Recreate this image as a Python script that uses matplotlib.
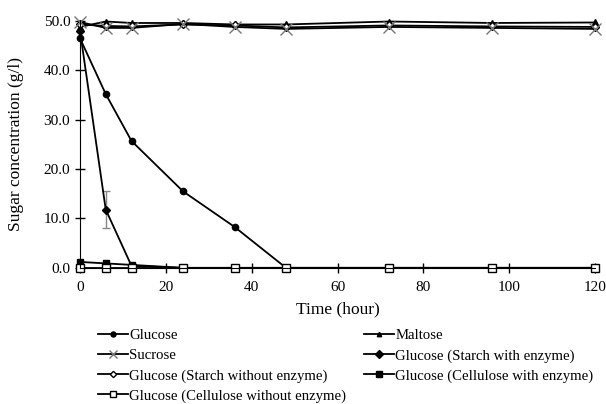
import numpy as np
import matplotlib.pyplot as plt

plt.rcParams['font.family'] = ['Liberation Serif', 'DejaVu Serif']

# sampling times (hour)
time = [0, 6, 12, 24, 36, 48, 72, 96, 120]

glucose = [46.5, 35.2, 25.7, 15.5, 8.3, 0.0, 0.0, 0.0, 0.0]
maltose = [48.8, 49.9, 49.6, 49.6, 49.3, 49.3, 49.9, 49.6, 49.7]
sucrose = [49.8, 48.6, 48.6, 49.4, 48.8, 48.4, 48.8, 48.6, 48.4]
starch_enz = [48.0, 11.8, 0.4, 0.0, 0.0, 0.0, 0.0, 0.0, 0.0]
starch_enz_err = [0.0, 3.8, 0.0, 0.0, 0.0, 0.0, 0.0, 0.0, 0.0]
starch_noenz = [49.3, 49.0, 48.9, 49.3, 49.1, 48.7, 49.1, 48.9, 48.8]
cell_enz = [1.2, 0.9, 0.6, 0.0, 0.0, 0.0, 0.0, 0.0, 0.0]
cell_noenz = [0.0, 0.0, 0.0, 0.0, 0.0, 0.0, 0.0, 0.0, 0.0]

fig = plt.figure(figsize=(6.06, 4.04), dpi=100)
ax = fig.add_axes([0.132, 0.337, 0.85, 0.611])

kw = dict(color='black', lw=1.3, clip_on=False)
h_mal, = ax.plot(time, maltose, marker='^', ms=4, label='Maltose', **kw)
h_sno, = ax.plot(time, starch_noenz, marker='D', ms=4, mfc='white', label='Glucose (Starch without enzyme)', **kw)
h_suc, = ax.plot(time, sucrose, marker='x', ms=8, mew=1, mec='#777777', label='Sucrose', **kw)
h_glu, = ax.plot(time, glucose, marker='o', ms=4.5, label='Glucose', **kw)
ax.errorbar(time[1], starch_enz[1], yerr=starch_enz_err[1], color='#888888', capsize=3, lw=1, zorder=1)
h_sen, = ax.plot(time, starch_enz, marker='D', ms=4.5, label='Glucose (Starch with enzyme)', **kw)
h_cen, = ax.plot(time, cell_enz, marker='s', ms=5, label='Glucose (Cellulose with enzyme)', **kw)
h_cno, = ax.plot(time, cell_noenz, marker='s', ms=5.5, mfc='white', label='Glucose (Cellulose without enzyme)', **kw)

ax.set_xlim(0, 120)
ax.set_ylim(0, 50)
ax.set_xticks(np.arange(0, 121, 20))
ax.set_yticks(np.arange(0, 51, 10))
ax.set_yticklabels(['%.1f' % v for v in np.arange(0, 51, 10)])
ax.tick_params(direction='inout', length=7, width=1, labelsize=11)
ax.tick_params(axis='x', pad=6)
for s in ['top', 'right']:
    ax.spines[s].set_visible(False)
ax.set_xlabel('Time (hour)', fontsize=12.5, labelpad=5)
ax.set_ylabel('Sugar concentration (g/l)', fontsize=12.5, labelpad=14)

handles = [h_glu, h_suc, h_sno, h_cno, h_mal, h_sen, h_cen]
fig.legend(handles, [h.get_label() for h in handles], ncol=2, frameon=False,
           loc='upper left', bbox_to_anchor=(0.14, 0.218), fontsize=10.6,
           handlelength=2, handletextpad=0.1, columnspacing=1.25, labelspacing=0.45,
           markerscale=0.8)

plt.savefig('out.png', dpi=100)
